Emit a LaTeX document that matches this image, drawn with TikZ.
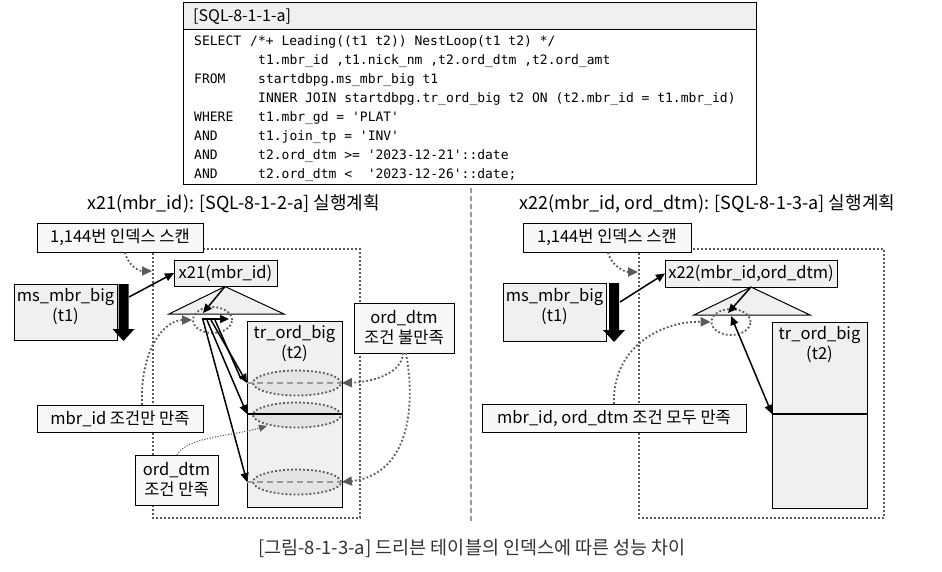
\documentclass[tikz,border=0pt]{standalone}
\usepackage{fontspec}
\setmainfont{Noto Sans CJK KR}
\newfontfamily\codefont{DejaVu Sans Mono}
\usetikzlibrary{arrows.meta,shapes.geometric}
\definecolor{boxfill}{HTML}{F0F0F0}
\definecolor{lblfill}{HTML}{F8F8F8}
\definecolor{ellfill}{HTML}{E4E4E4}
\definecolor{dotc}{HTML}{5A5A5A}
\definecolor{dashc}{HTML}{9A9A9A}
\definecolor{capc}{HTML}{333333}
\newcommand{\lblfont}{\fontsize{16.5}{20}\selectfont}
\newcommand{\ttlfont}{\fontsize{18}{21}\selectfont}
\newcommand{\capfont}{\fontsize{18.5}{21}\selectfont}
\newcommand{\cdfont}{\codefont\fontsize{13}{16}\selectfont}
\tikzset{
  box/.style={draw=black, line width=1pt, fill=boxfill, inner sep=0pt, outer sep=0pt},
  lbl/.style={draw=black, line width=1pt, fill=lblfill, inner sep=0pt, font=\lblfont, align=center},
  txt/.style={inner sep=0pt, font=\lblfont, align=center},
  ell/.style={ellipse, fill=ellfill, draw=dotc, line width=1.8pt, dash pattern=on 1.8pt off 2.2pt, inner sep=0pt, minimum width=88pt, minimum height=25pt},
  circ/.style={ellipse, draw=dotc, line width=1.8pt, dash pattern=on 1.8pt off 2.2pt, inner sep=0pt, minimum width=39pt, minimum height=26pt},
  dotline/.style={draw=dotc, line width=1.8pt, dash pattern=on 1.8pt off 2.2pt},
  dotarrow/.style={dotline, -{Triangle[length=10pt,width=9pt,fill=dotc]}},
  thindot/.style={draw=dotc, line width=1.1pt, dash pattern=on 1.1pt off 1.6pt, -{Triangle[length=8pt,width=7pt,fill=dotc]}},
  blkarrow/.style={draw=black, line width=1.5pt, -{Triangle[length=9pt,width=8pt]}},
  blkline/.style={draw=black, line width=1.5pt},
  tri/.style={fill=boxfill, draw=black, line width=1pt, line join=miter},
  divider/.style={draw=black, line width=1.3pt},
  dashmid/.style={draw=dashc, line width=1.6pt, dash pattern=on 6pt off 4pt},
  code/.style={anchor=base west, inner sep=0pt, font=\cdfont},
}
\begin{document}
\begin{tikzpicture}[x=1pt,y=-1pt]
\fill[white] (0,0) rectangle (942,571);
\useasboundingbox (0,0) rectangle (942,571);

% ---------------- SQL box ----------------
\node[box, anchor=north west, minimum width=573pt, minimum height=27pt] (sqlhead) at (183,2) {};
\node[draw=black, line width=1pt, anchor=north west, minimum width=573pt, minimum height=182pt, inner sep=0pt] (sql) at (183,2) {};
\node[anchor=base west, inner sep=0pt, font=\fontsize{16}{18}\selectfont] (sqltitle) at (193,21) {[SQL-8-1-1-a]};
\node[code] (k1) at (194,45) {SELECT};
\node[code] (c1) at (250,45) {/*+ Leading((t1 t2)) NestLoop(t1 t2) */};
\node[code] (c2) at (258,64) {t1.mbr\_id ,t1.nick\_nm ,t2.ord\_dtm ,t2.ord\_amt};
\node[code] (k3) at (194,83) {FROM};
\node[code] (c3) at (258,83) {startdbpg.ms\_mbr\_big t1};
\node[code] (c4) at (258,102) {INNER JOIN startdbpg.tr\_ord\_big t2 ON (t2.mbr\_id = t1.mbr\_id)};
\node[code] (k5) at (194,121) {WHERE};
\node[code] (c5) at (258,121) {t1.mbr\_gd = 'PLAT'};
\node[code] (k6) at (194,140) {AND};
\node[code] (c6) at (258,140) {t1.join\_tp = 'INV'};
\node[code] (k7) at (194,159) {AND};
\node[code] (c7) at (258,159) {t2.ord\_dtm >= '2023-12-21'::date};
\node[code] (k8) at (194,178) {AND};
\node[code] (c8) at (258,178) {t2.ord\_dtm <\ \ '2023-12-26'::date;};

% ---------------- divider ----------------
\draw[draw=dashc, line width=1.5pt, dash pattern=on 5pt off 3pt] (471,188) -- (471,521);

% ---------------- titles ----------------
\node[inner sep=0pt, font=\ttlfont] (Ltitle) at (233.5,204) {x21(mbr\_id): [SQL-8-1-2-a] 실행계획};
\node[inner sep=0pt, font=\ttlfont] (Rtitle) at (707.5,204) {x22(mbr\_id, ord\_dtm): [SQL-8-1-3-a] 실행계획};

% ================= LEFT =================
\draw[dotline] (153,249) rectangle (360,518);
\node[lbl, minimum width=166pt, minimum height=29pt] (L144) at (120,237.5) {1,144번 인덱스 스캔};
\node[box, minimum width=103pt, minimum height=56pt] (Lt1) at (65.5,312) {};
\node[txt] (Lt1t) at (65.5,307) {ms\_mbr\_big\\(t1)};
\fill[black] (118.5,284) -- (128.5,284) -- (128.5,329) -- (134.5,329) -- (123.5,341) -- (112.5,329) -- (118.5,329) -- cycle;
\node[box, minimum width=103pt, minimum height=26pt, font=\lblfont] (Lx21) at (225.5,273) {x21(mbr\_id)};
\coordinate (Lapex) at (225,286.5);
\coordinate (Lbl) at (169,314);
\coordinate (Lbr) at (284,314);
\filldraw[tri] (Lapex) -- (Lbl) -- (Lbr) -- cycle;
\node[box, minimum width=95pt, minimum height=186pt] (Lt2) at (294.5,414) {};
\node[txt] (Lt2t) at (294.5,344) {tr\_ord\_big\\(t2)};
\node[ell] (Le1) at (297,383) {};
\node[ell] (Le2) at (297,415) {};
\node[ell] (Le3) at (297,482) {};
\draw[dashmid] (Lt2.west |- Le1.center) -- (Le1.east);
\draw[dashmid] (Lt2.west |- Le3.center) -- (Le3.east);
\coordinate (Ldiv) at (0,414);
\draw[divider] (Lt2.west |- Ldiv) -- (Lt2.east |- Ldiv);
\node[circ] (Lcirc) at (212.5,320) {};
\node[lbl, minimum width=100pt, minimum height=50pt] (Lno) at (404,328) {ord\_dtm\\조건 불만족};
\node[lbl, minimum width=166pt, minimum height=27pt] (Lmbr) at (120,418.5) {mbr\_id 조건만 만족};
\node[lbl, minimum width=83pt, minimum height=50pt] (Lok) at (176.5,480) {ord\_dtm\\조건 만족};

% left connectors
\coordinate (Ls0) at (129,297);
\draw[blkarrow] (Ls0) -- (Lx21.west);
\coordinate (Lhit) at (203,313);
\draw[blkarrow] (Lapex) -- (Lhit);
\coordinate (Lh0) at (202,319);
\coordinate (Lh1) at (229,319);
\draw[blkarrow, line width=2pt] (Lh0) -- (Lh1);
\coordinate (Ld1) at (203,320);
\coordinate (Ld2) at (207,320);
\coordinate (Ld3) at (211,320);
\coordinate (Ld4) at (215,320);
\coordinate (Lq1) at (Lt2.west |- Le1.center);
\coordinate (Lq2) at (Lt2.west |- Ldiv);
\coordinate (Lq3) at (Lt2.west |- Le3.center);
\draw[blkarrow] (Ld1) -- (Lq3);
\draw[blkarrow] (Ld2) -- (Lq2);
\draw[blkarrow] (Ld3) -- (Lq1);
\draw[blkline] (Ld4) -- ([xshift=-6pt,yshift=4pt]Lq1);
\coordinate (Ls144) at (125,252.5);
\coordinate (Lin144) at (152,271);
\draw[dotarrow] (Ls144) .. controls (128,265) and (138,271) .. (Lin144);
\coordinate (Lnoa) at (403,353);
\coordinate (Lnob) at (406,353);
\draw[dotarrow] (Lnoa) .. controls (402,374) and (372,382) .. (Le1.east);
\draw[dotarrow] (Lnob) .. controls (418,420) and (402,476) .. (Le3.east);
\coordinate (Lmbrs) at (142,405);
\draw[dotarrow] (Lmbrs) .. controls (140,348) and (165,320) .. (Lcirc.west);
\coordinate (Loks) at (177,455);
\coordinate (Lokt) at (267,426);
\draw[thindot] (Loks) .. controls (186,437) and (232,436) .. (Lokt);

% ================= RIGHT =================
\draw[dotline] (639,249) rectangle (884,518);
\node[lbl, minimum width=168pt, minimum height=29pt] (R144) at (607,237.5) {1,144번 인덱스 스캔};
\node[box, minimum width=103pt, minimum height=58pt] (Rt1) at (554.5,312) {};
\node[txt] (Rt1t) at (554.5,307) {ms\_mbr\_big\\(t1)};
\fill[black] (609,283) -- (619,283) -- (619,330) -- (625,330) -- (614,342) -- (603,330) -- (609,330) -- cycle;
\node[box, minimum width=172pt, minimum height=27pt, font=\lblfont] (Rx22) at (751,273.5) {x22(mbr\_id,ord\_dtm)};
\coordinate (Rapex) at (751,287);
\coordinate (Rbl) at (694,315);
\coordinate (Rbr) at (810,315);
\filldraw[tri] (Rapex) -- (Rbl) -- (Rbr) -- cycle;
\node[box, minimum width=95pt, minimum height=186pt] (Rt2) at (819.5,415) {};
\node[txt] (Rt2t) at (819.5,345) {tr\_ord\_big\\(t2)};
\coordinate (Rdiv) at (0,414);
\draw[divider] (Rt2.west |- Rdiv) -- (Rt2.east |- Rdiv);
\node[circ] (Rcirc) at (731,322) {};
\node[lbl, minimum width=264pt, minimum height=28pt] (Rmbr) at (614,418) {mbr\_id, ord\_dtm 조건 모두 만족};

% right connectors
\coordinate (Rs0) at (620,302);
\draw[blkarrow] (Rs0) -- (Rx22.west);
\coordinate (Rhit) at (728,313);
\draw[blkarrow] (Rapex) -- (Rhit);
\coordinate (Rd0) at (731,316);
\coordinate (Rd1) at (Rt2.west |- Rdiv);
\draw[blkarrow, {Triangle[length=9pt,width=8pt]}-{Triangle[length=9pt,width=8pt]}] (Rd0) -- (Rd1);
\coordinate (Rs144) at (608,252.5);
\coordinate (Rin144) at (638,272);
\draw[dotarrow] (Rs144) .. controls (611,265) and (624,272) .. (Rin144);
\coordinate (Rmbrs) at (614,404);
\draw[dotarrow] (Rmbrs) .. controls (612,348) and (660,321) .. (Rcirc.west);

% ---------------- caption ----------------
\node[inner sep=0pt, font=\capfont, text=capc] (cap) at (472,548) {[그림-8-1-3-a] 드리븐 테이블의 인덱스에 따른 성능 차이};
\end{tikzpicture}
\end{document}
